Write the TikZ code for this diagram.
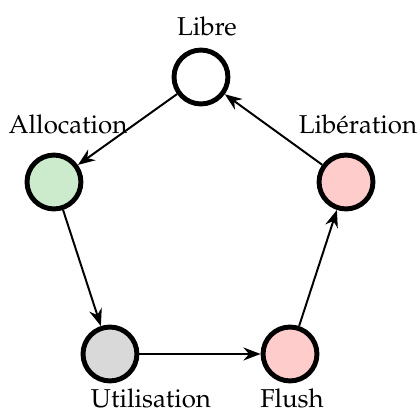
\documentclass[tikz,border=0pt]{standalone}
\usepackage[T1]{fontenc}
\usepackage{xcolor}
\usepackage{mathpazo}
\usepackage{tikz}
\usetikzlibrary{arrows.meta}

\begin{document}
\begin{tikzpicture}[>={Stealth[length=7pt,width=5.3pt,inset=2.3pt]},font=\fontsize{10.5}{13}\selectfont,
    etat/.style={circle,draw,line width=2pt,minimum size=0.77cm,inner sep=0pt},
    lbl/.style={anchor=base,inner sep=0pt}]
    \useasboundingbox (0,0) rectangle (6,5.886);
    \node[etat] (libre) at (2.871,4.786) {};
    \node[etat,fill=green!60!black!20] (alloc) at (0.771,3.286) {};
    \node[etat,fill=gray!30] (util) at (1.571,0.829) {};
    \node[etat,fill=red!20] (flush) at (4.143,0.829) {};
    \node[etat,fill=red!20] (liber) at (4.943,3.286) {};
    \node[lbl] (tlibre) at (2.957,5.386) {Libre};
    \node[lbl] (talloc) at (0.971,3.986) {Allocation};
    \node[lbl] (tliber) at (5.114,3.986) {Libération};
    \node[lbl] (tutil) at (2.157,0.06) {Utilisation};
    \node[lbl] (tflush) at (4.171,0.06) {Flush};
    \draw[->,thick] (libre) -- (alloc);
    \draw[->,thick] (alloc) -- (util);
    \draw[->,thick] (util) -- (flush);
    \draw[->,thick] (flush) -- (liber);
    \draw[->,thick] (liber) -- (libre);
\end{tikzpicture}
\end{document}
